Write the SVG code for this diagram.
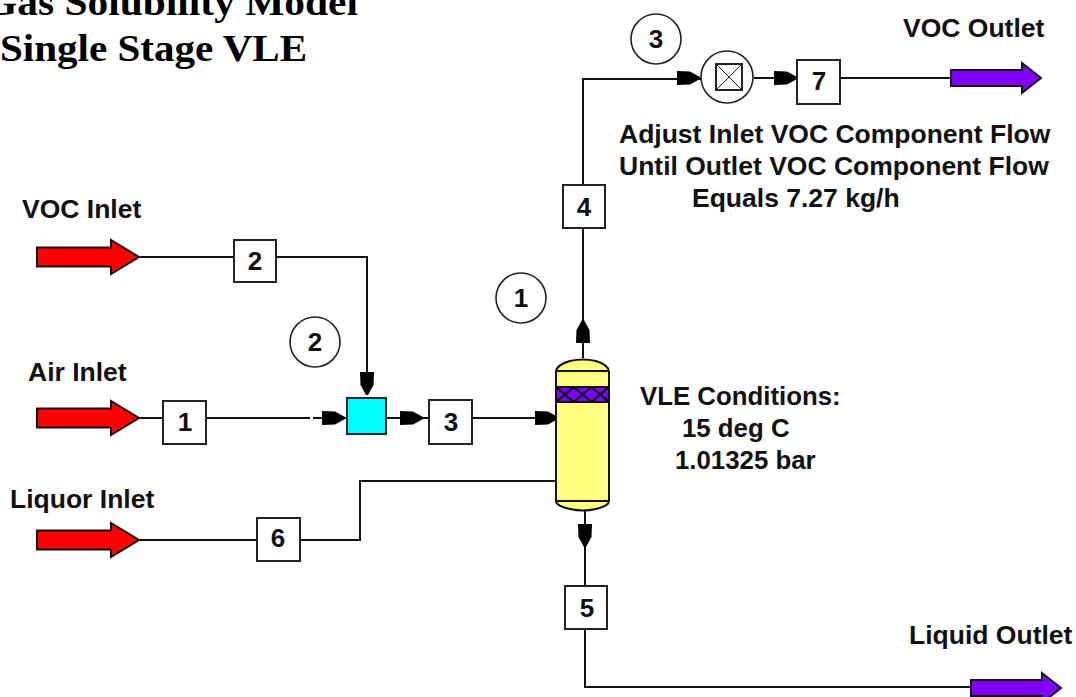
<svg xmlns="http://www.w3.org/2000/svg" width="1076" height="697" viewBox="0 0 1076 697">
<style>
text{font-family:"Liberation Sans",Arial,sans-serif;font-weight:bold;font-size:26.5px;fill:#111}
.t{font-family:"Liberation Serif","Times New Roman",serif;font-size:38px;fill:#000}
.n{text-anchor:middle;font-size:26px}
.v{font-size:25.8px}
.b{fill:#fff;stroke:#222;stroke-width:2}
.c{fill:#fff;stroke:#222;stroke-width:1.6}
.l{fill:none;stroke:#111;stroke-width:2}
.red{fill:#ff0000;stroke:#111;stroke-width:2}
.pur{fill:#8000ff;stroke:#111;stroke-width:2}
</style>
<defs>
<path id="ah" d="M-23,-7 L-10,-6.5 L0,-1 L0,1 L-10,6.5 L-23,7 Z" fill="#000"/>
<path id="fl" d="M0,-9.5 H74 V-17 L102,0 L74,17 V9.5 H0 Z"/>
<path id="fo" d="M0,-8 H71 V-15 L90,0 L71,15 V8 H0 Z"/>
<pattern id="x" width="17.67" height="15" patternUnits="userSpaceOnUse" x="556" y="387"><rect width="17.67" height="15" fill="#8000ff"/><path d="M0,0 L17.67,15 M17.67,0 L0,15" stroke="#000" stroke-width="2"/></pattern>
</defs>
<g id="title"><text class="t" x="-15" y="15" textLength="373" lengthAdjust="spacingAndGlyphs">Gas Solubility Model</text><text class="t" x="0" y="61" textLength="307" lengthAdjust="spacingAndGlyphs">Single Stage VLE</text></g>
<g id="connectors">
<path class="l" d="M140,257H367V395"/>
<path class="l" d="M140,418H163M206,418H310M313,418H346"/>
<path class="l" d="M386,418H429M472,418H556"/>
<path class="l" d="M140,540H360V481H556"/>
<path class="l" d="M583,358V79H702"/>
<path class="l" d="M754,78H950"/>
<path class="l" d="M585,510V687H972"/>
<use href="#ah" transform="translate(345,418)"/>
<use href="#ah" transform="translate(423,418)"/>
<use href="#ah" transform="translate(558,418)"/>
<use href="#ah" transform="translate(367,395) rotate(90)"/>
<use href="#ah" transform="translate(583,320) rotate(-90)"/>
<use href="#ah" transform="translate(585,547) rotate(90)"/>
<use href="#ah" transform="translate(700,78)"/>
<use href="#ah" transform="translate(797,78)"/>
</g>
<g id="voc-inlet"><use href="#fl" class="red" transform="translate(37,257)"/><text x="22" y="218">VOC Inlet</text></g>
<g id="air-inlet"><use href="#fl" class="red" transform="translate(37,418)"/><text x="28" y="381">Air Inlet</text></g>
<g id="liquor-inlet"><use href="#fl" class="red" transform="translate(37,540)"/><text x="10" y="508">Liquor Inlet</text></g>
<g id="voc-outlet"><use href="#fo" class="pur" transform="translate(951,78)"/><text x="903" y="37">VOC Outlet</text></g>
<g id="liquid-outlet"><use href="#fo" class="pur" transform="translate(971,688)"/><text x="909" y="644">Liquid Outlet</text></g>
<g id="s2"><rect class="b" x="234" y="240" width="42" height="42"/><text class="n" x="255" y="270">2</text></g>
<g id="s1"><rect class="b" x="163" y="401" width="43" height="43"/><text class="n" x="185" y="431">1</text></g>
<g id="s3"><rect class="b" x="429" y="400" width="43" height="44"/><text class="n" x="451" y="431">3</text></g>
<g id="s6"><rect class="b" x="257" y="518" width="43" height="43"/><text class="n" x="278" y="547">6</text></g>
<g id="s4"><rect class="b" x="563" y="185" width="42" height="43"/><text class="n" x="584" y="216">4</text></g>
<g id="s5"><rect class="b" x="565" y="586" width="42" height="43"/><text class="n" x="587" y="617">5</text></g>
<g id="s7"><rect class="b" x="797" y="60" width="43" height="44"/><text class="n" x="819" y="90">7</text></g>
<g id="mixer"><rect x="347" y="398" width="39" height="36" fill="#00ffff" stroke="#222" stroke-width="2"/></g>
<g id="flash">
<path d="M556,372 Q556,365 570,361 Q583,358 596,361 Q609,365 609,372 V501 Q609,506 596,509 Q583,512 570,509 Q556,506 556,501 Z" fill="#ffff80" stroke="#111" stroke-width="2"/>
<path d="M556,371H609M556,501H609" stroke="#111" stroke-width="2"/>
<rect x="556" y="387" width="53" height="15" fill="url(#x)" stroke="#111" stroke-width="2"/>
</g>
<g id="valve"><circle class="c" cx="727" cy="77" r="26"/><rect x="716" y="64" width="26" height="26" fill="#fff" stroke="#222" stroke-width="2"/><path d="M716,64L742,90M742,64L716,90" stroke="#222" stroke-width="1"/></g>
<g id="c1"><circle class="c" cx="521" cy="298" r="25"/><text class="n" x="521" y="307">1</text></g>
<g id="c2"><circle class="c" cx="315" cy="342" r="25"/><text class="n" x="315" y="351">2</text></g>
<g id="c3"><circle class="c" cx="656" cy="39" r="25"/><text class="n" x="656" y="48">3</text></g>
<g id="note-vle"><text class="v" x="640" y="405">VLE Conditions:</text><text class="v" x="682" y="437">15 deg C</text><text class="v" x="675" y="469">1.01325 bar</text></g>
<g id="note-adjust"><text x="619" y="143">Adjust Inlet VOC Component Flow</text><text x="619" y="175">Until Outlet VOC Component Flow</text><text x="692" y="207">Equals 7.27 kg/h</text></g>
</svg>
